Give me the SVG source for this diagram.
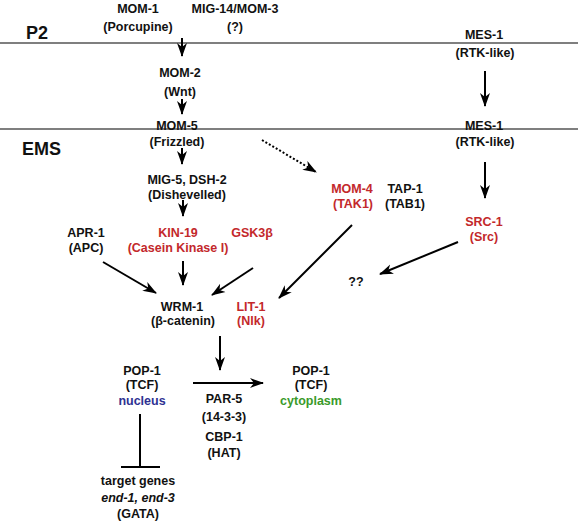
<svg xmlns="http://www.w3.org/2000/svg" width="580" height="525" viewBox="0 0 580 525">
<defs>
<marker id="ah" markerUnits="userSpaceOnUse" markerWidth="14" markerHeight="12" refX="13" refY="5" orient="auto" viewBox="0 0 14 10">
<path d="M0,0 L14,5 L0,10 L4,5 Z" fill="#000"/>
</marker>
</defs>
<style>
text{font-family:"Liberation Sans",Arial,sans-serif;font-weight:bold;font-size:12.5px;text-anchor:middle;fill:#111}
.big{font-size:18px;text-anchor:start}
.red{fill:#c3282b}
.blue{fill:#2e3192}
.green{fill:#3a9a2a}
.it{font-style:italic}
.sep{stroke:#555;stroke-width:1.3}
.arr{stroke:#000;stroke-width:2;fill:none;marker-end:url(#ah)}
.dot{stroke:#000;stroke-width:2;fill:none;stroke-dasharray:2 2;marker-end:url(#ah)}
.inh{stroke:#000;stroke-width:2;fill:none}
</style>
<line class="sep" x1="0" y1="43" x2="578" y2="43"/>
<line class="sep" x1="0" y1="129" x2="578" y2="129"/>
<text class="big" x="26" y="39">P2</text>
<text class="big" x="22" y="155">EMS</text>
<g id="mom1"><text x="138" y="13">MOM-1</text><text x="138" y="31">(Porcupine)</text></g>
<g id="mig14"><text x="235" y="13">MIG-14/MOM-3</text><text x="235" y="31">(?)</text></g>
<g id="mom2"><text x="180" y="77">MOM-2</text><text x="180" y="96">(Wnt)</text></g>
<g id="mom5"><text x="177" y="130">MOM-5</text><text x="177" y="146">(Frizzled)</text></g>
<g id="mig5"><text x="187" y="184">MIG-5, DSH-2</text><text x="187" y="199">(Dishevelled)</text></g>
<g id="apr1"><text x="86" y="237">APR-1</text><text x="86" y="252">(APC)</text></g>
<g id="kin19"><text class="red" x="178" y="237">KIN-19</text><text class="red" x="178" y="252">(Casein Kinase I)</text></g>
<g id="gsk3"><text class="red" x="252" y="237">GSK3β</text></g>
<g id="wrm1"><text x="182" y="311">WRM-1</text><text x="183" y="325">(β-catenin)</text></g>
<g id="lit1"><text class="red" x="251" y="311">LIT-1</text><text class="red" x="251" y="325">(Nlk)</text></g>
<g id="mom4"><text class="red" x="352" y="193">MOM-4</text><text class="red" x="353" y="208">(TAK1)</text></g>
<g id="tap1"><text x="405" y="193">TAP-1</text><text x="405" y="208">(TAB1)</text></g>
<g id="mes1a"><text x="484" y="39">MES-1</text><text x="485" y="57">(RTK-like)</text></g>
<g id="mes1b"><text x="484" y="130">MES-1</text><text x="485" y="146">(RTK-like)</text></g>
<g id="src1"><text class="red" x="484" y="226">SRC-1</text><text class="red" x="484" y="241">(Src)</text></g>
<g id="qq"><text x="356" y="286">??</text></g>
<g id="pop1n"><text x="142" y="375">POP-1</text><text x="142" y="389">(TCF)</text><text class="blue" x="142" y="405">nucleus</text></g>
<g id="pop1c"><text x="311" y="375">POP-1</text><text x="311" y="389">(TCF)</text><text class="green" x="311" y="405">cytoplasm</text></g>
<g id="par5"><text x="224" y="403">PAR-5</text><text x="224" y="421">(14-3-3)</text><text x="224" y="441">CBP-1</text><text x="224" y="457">(HAT)</text></g>
<g id="target"><text x="138" y="485">target genes</text><text class="it" x="138" y="502">end-1, end-3</text><text x="138" y="518">(GATA)</text></g>
<g id="connectors">
<line class="arr" x1="182" y1="38" x2="182" y2="56"/>
<line class="arr" x1="182" y1="99" x2="182" y2="114"/>
<line class="arr" x1="182" y1="148" x2="182" y2="164"/>
<line class="arr" x1="183" y1="200" x2="183" y2="216"/>
<line class="arr" x1="183" y1="261" x2="183" y2="285"/>
<line class="arr" x1="103" y1="262" x2="156" y2="293"/>
<line class="arr" x1="253" y1="268" x2="212" y2="295"/>
<line class="arr" x1="352" y1="225" x2="279" y2="298"/>
<line class="arr" x1="458" y1="242" x2="380" y2="274"/>
<line class="dot" x1="262" y1="140" x2="316" y2="172"/>
<line class="arr" x1="485" y1="71" x2="485" y2="106"/>
<line class="arr" x1="485" y1="162" x2="485" y2="198"/>
<line class="arr" x1="220" y1="336" x2="220" y2="370"/>
<line class="arr" x1="193" y1="383" x2="263" y2="383"/>
<path class="inh" d="M140,414 V467 M121,467 H160"/>
</g>
</svg>
